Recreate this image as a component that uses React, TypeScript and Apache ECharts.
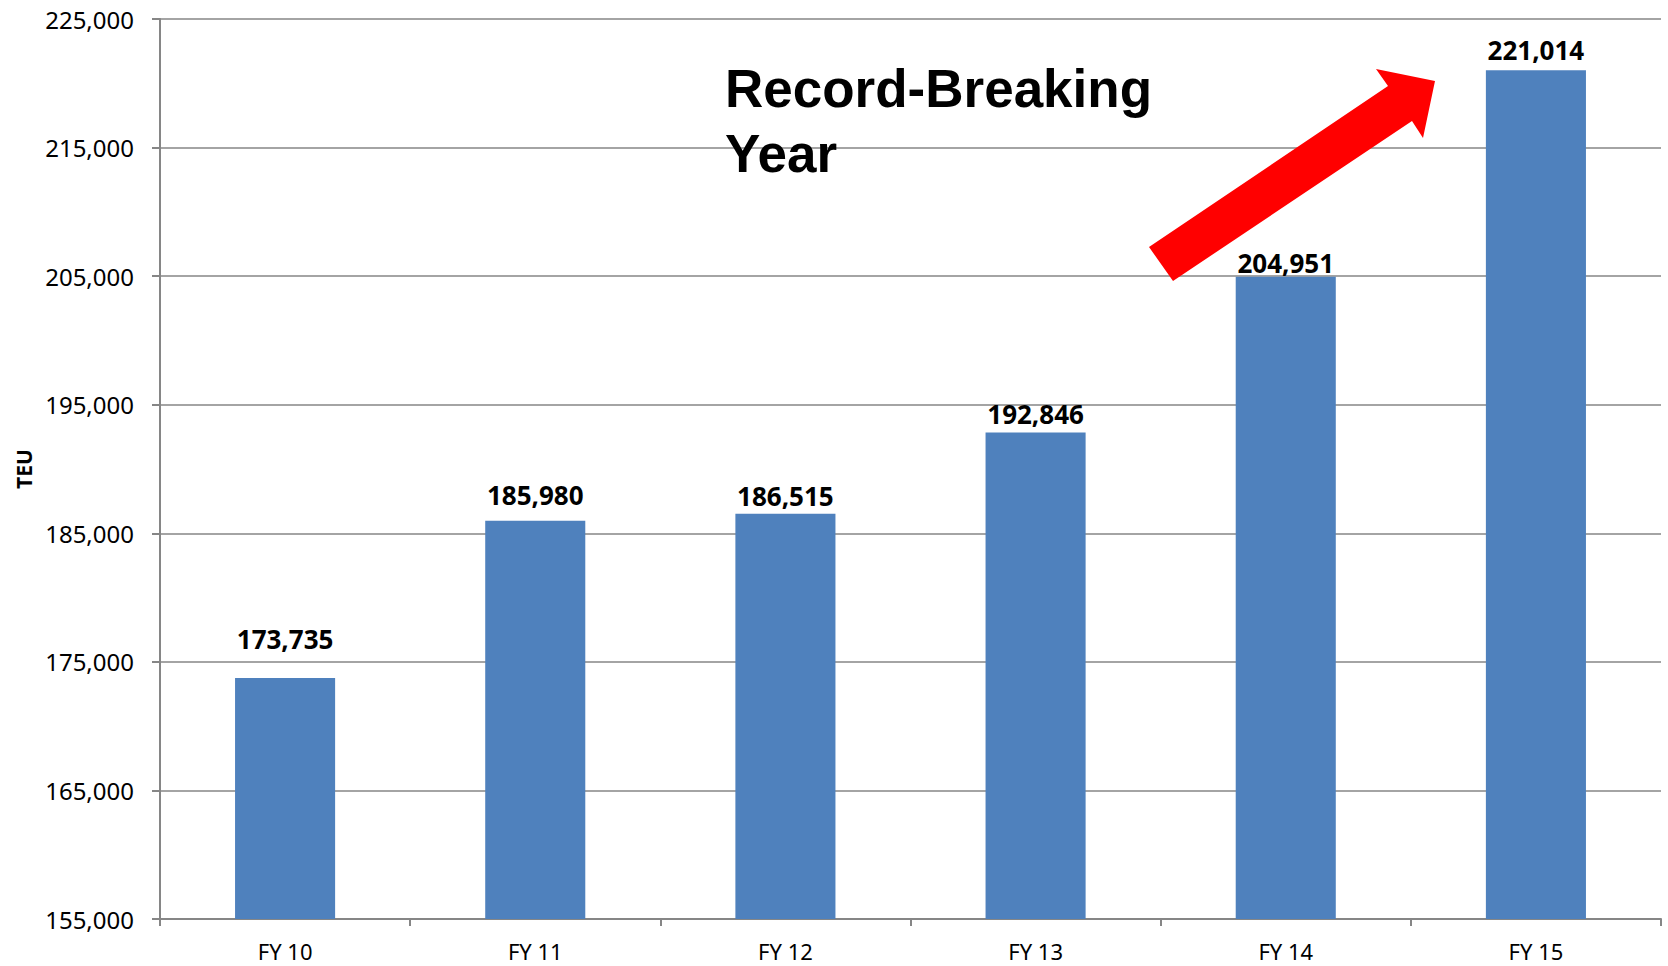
import React, { useEffect, useRef } from "react";
import * as echarts from "echarts";

const categories = ["FY 10", "FY 11", "FY 12", "FY 13", "FY 14", "FY 15"];
const teuValues = [173735, 185980, 186515, 192846, 204951, 221014];
const yMin = 155000;
const yMax = 225000;
const yStep = 10000;
const annotationLines = ["Record-Breaking", "Year"];
const axisName = "TEU";
// gap (px) between each bar top and its value label, as placed in the original
const labelDistances = [26, 13, 5, 5, 1, 7];

const fmt = (v: number) => v.toLocaleString("en-US");

export default function App() {
  const ref = useRef<HTMLDivElement>(null);
  useEffect(() => {
    document.body.style.margin = "0";
    document.body.style.overflow = "hidden";
    if (!ref.current) return;
    const chart = echarts.init(ref.current, undefined, { renderer: "svg" });
    const axisColor = "#868686";
    chart.setOption({
      animation: false,
      backgroundColor: "#ffffff",
      grid: { left: 160, right: 7, top: 19, bottom: 47, containLabel: false },
      xAxis: {
        type: "category",
        data: categories,
        axisLine: { lineStyle: { color: axisColor, width: 2 } },
        axisTick: { show: true, length: 7, lineStyle: { color: axisColor, width: 2 } },
        axisLabel: {
          color: "#000",
          fontFamily: "Noto Sans",
          fontSize: 22,
          lineHeight: 22,
          margin: 21,
        },
      },
      yAxis: {
        type: "value",
        min: yMin,
        max: yMax,
        interval: yStep,
        name: axisName,
        nameLocation: "middle",
        nameGap: 126,
        nameTextStyle: {
          color: "#000",
          fontFamily: "Noto Sans",
          fontWeight: "bold",
          fontSize: 21,
        },
        axisLine: { show: true, lineStyle: { color: axisColor, width: 2 } },
        axisTick: { show: true, length: 8, lineStyle: { color: axisColor, width: 2 } },
        splitLine: { show: true, lineStyle: { color: axisColor, width: 1.5 } },
        axisLabel: {
          color: "#000",
          fontFamily: "Noto Sans",
          fontSize: 24,
          margin: 26,
          formatter: (v: number) => fmt(v),
        },
      },
      series: [
        {
          type: "bar",
          data: teuValues.map((v, i) => ({
            value: v,
            label: { distance: labelDistances[i] },
          })),
          barWidth: "40%",
          itemStyle: { color: "#4f81bd" },
          label: {
            show: true,
            position: "top",
            color: "#000",
            fontFamily: "Noto Sans",
            fontWeight: "bold",
            fontSize: 26,
            formatter: (p: any) => fmt(p.value),
          },
        },
      ],
      graphic: [
        {
          type: "text",
          x: 725,
          y: 88,
          style: {
            text: annotationLines[0],
            fill: "#000",
            font: "bold 53px 'Liberation Sans', Arial, sans-serif",
            verticalAlign: "middle",
          },
          z: 100,
        },
        {
          type: "text",
          x: 725,
          y: 153,
          style: {
            text: annotationLines[1],
            fill: "#000",
            font: "bold 53px 'Liberation Sans', Arial, sans-serif",
            verticalAlign: "middle",
          },
          z: 100,
        },
        {
          type: "polygon",
          shape: {
            points: [
              [1149, 247],
              [1173, 281],
              [1412, 121],
              [1423, 138],
              [1435, 81],
              [1376, 69],
              [1388, 86],
            ],
          },
          style: { fill: "#ff0000" },
          z: 100,
        },
      ],
    });
    return () => chart.dispose();
  }, []);
  return <div ref={ref} style={{ width: 1668, height: 966 }} />;
}
